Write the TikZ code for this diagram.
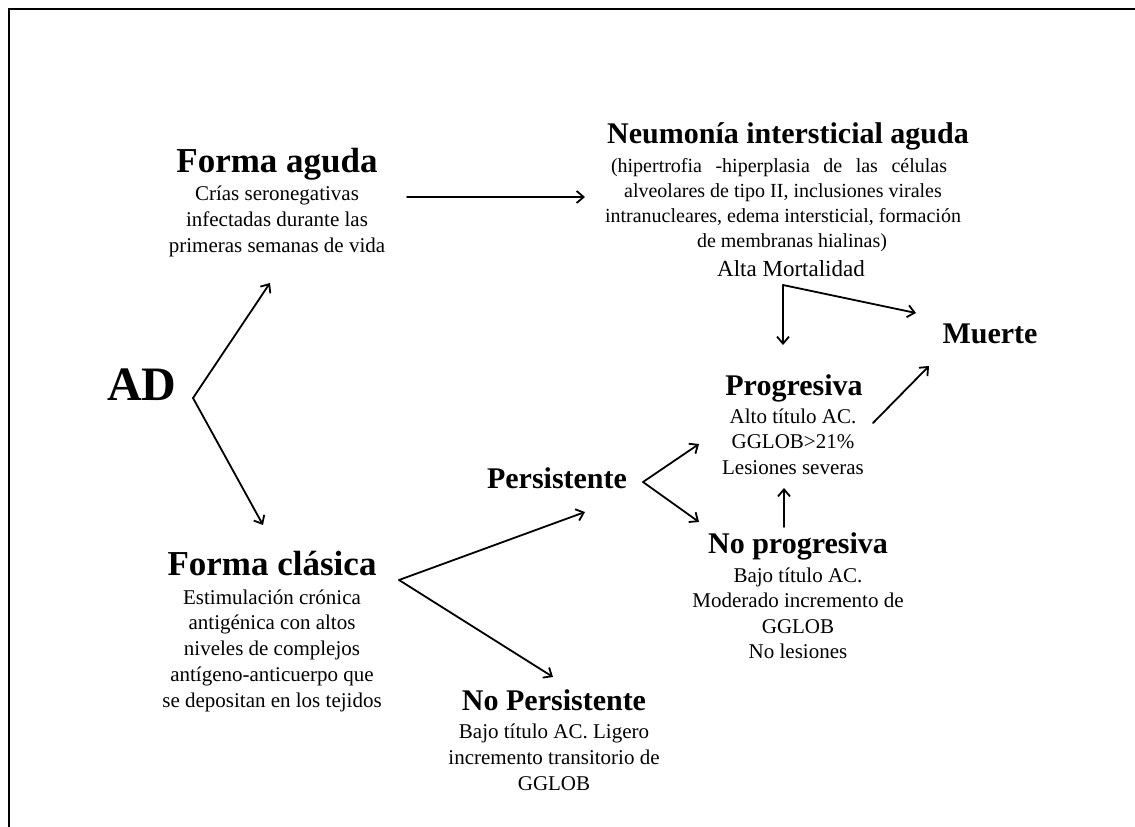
\documentclass[tikz,border=0pt]{standalone}
\usepackage{fontspec}
\setmainfont{Liberation Serif}
\usetikzlibrary{arrows.meta}
\newcommand{\mlines}[1]{\begin{tabular}[t]{@{}c@{}}#1\end{tabular}}
\begin{document}
\begin{tikzpicture}[x=1pt,y=-1pt,
  head/.style={font=\bfseries\fontsize{30}{36}\selectfont, inner sep=0pt, anchor=base},
  big/.style={font=\bfseries\fontsize{35}{42}\selectfont, inner sep=0pt, anchor=base},
  body/.style={font=\fontsize{21}{25.5}\selectfont, inner sep=0pt, anchor=base},
  arr/.style={-{Straight Barb[length=7pt,width=12pt]}, line width=1.8pt, line cap=round}]
\useasboundingbox (0,0) rectangle (1135,827);
\draw[line width=2.5pt] (9,827) -- (9,9) -- (1135,9);

\node[font=\bfseries\fontsize{48}{56}\selectfont, inner sep=0pt, anchor=base] (ad) at (142,400) {AD};
\node[big] (fa) at (277,172) {Forma aguda};
\node[body, font=\fontsize{21}{26}\selectfont] (fatxt) at (277,200) {\mlines{Crías seronegativas\\infectadas durante las\\primeras semanas de vida}};
\node[head] (neu) at (788,143) {Neumonía intersticial aguda};
\node[body, font=\fontsize{20}{25}\selectfont] (neutxt) at (783,172) {\mlines{\hspace*{-8pt}\makebox[336pt][s]{(hipertrofia -hiperplasia de las células}\\alveolares de tipo II, inclusiones virales\\intranucleares, edema intersticial, formación\\\hspace*{18pt}de membranas hialinas)}};
\node[body, font=\fontsize{23}{27}\selectfont] (alta) at (791,276) {Alta Mortalidad};
\node[head] (mu) at (990,343) {Muerte};
\node[head] (pro) at (794,395) {Progresiva};
\node[body] (protxt) at (793,423) {\mlines{Alto título AC.\\GGLOB>21\%\\Lesiones severas}};
\node[head] (per) at (557,488) {Persistente};
\node[head] (np) at (798,553) {No progresiva};
\node[body] (nptxt) at (798,582) {\mlines{Bajo título AC.\\Moderado incremento de\\GGLOB\\No lesiones}};
\node[big] (fc) at (272,575) {Forma clásica};
\node[body, font=\fontsize{21}{25.8}\selectfont] (fctxt) at (272,604) {\mlines{Estimulación crónica\\antigénica con altos\\niveles de complejos\\antígeno-anticuerpo que\\se depositan en los tejidos}};
\node[head] (nper) at (554,710) {No Persistente};
\node[body, font=\fontsize{21}{26}\selectfont] (npertxt) at (554,738) {\mlines{Bajo título AC. Ligero\\incremento transitorio de\\GGLOB}};

\coordinate (adR) at (193,398);
\coordinate (faIn) at (270,283);
\coordinate (fcIn) at (263,525);
\coordinate (faOut) at (407,197);
\coordinate (neuIn) at (585,197);
\coordinate (fcOut) at (399,580);
\coordinate (perIn) at (585,512);
\coordinate (nperIn) at (553,677);
\coordinate (perOut) at (643,482);
\coordinate (proIn) at (699,444);
\coordinate (npIn) at (699,522);
\coordinate (npOut) at (784,527);
\coordinate (proIn2) at (784,488);
\coordinate (neuOut) at (783,285);
\coordinate (proIn3) at (783,345);
\coordinate (muIn) at (916,313);
\coordinate (proOut) at (873,423);
\coordinate (muIn2) at (929,366);

\draw[arr] (adR) -- (faIn);
\draw[arr] (adR) -- (fcIn);
\draw[arr] (faOut) -- (neuIn);
\draw[arr] (fcOut) -- (perIn);
\draw[arr] (fcOut) -- (nperIn);
\draw[arr] (perOut) -- (proIn);
\draw[arr] (perOut) -- (npIn);
\draw[arr] (npOut) -- (proIn2);
\draw[arr] (neuOut) -- (proIn3);
\draw[arr] (neuOut) -- (muIn);
\draw[arr] (proOut) -- (muIn2);
\end{tikzpicture}
\end{document}
